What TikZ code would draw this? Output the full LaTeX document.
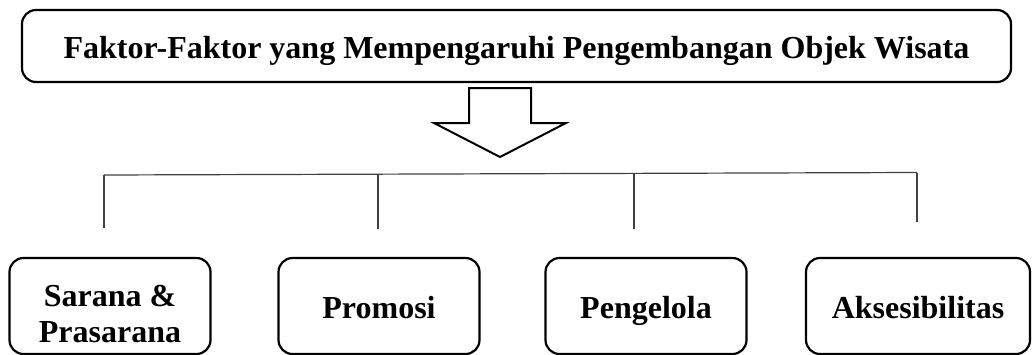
\documentclass[tikz,border=0pt]{standalone}
\usepackage{fontspec}
\setmainfont{Liberation Serif}
\begin{document}
\begin{tikzpicture}[x=1pt,y=-1pt,
  box/.style={draw, line width=2.2pt, rounded corners=14pt, inner sep=0pt,
    font=\fontsize{32}{36}\selectfont\bfseries, align=center},
  leaf/.style={box, minimum width=201pt, minimum height=96pt, text height=24pt, text depth=0pt},
  conn/.style={draw=black!75, line width=1.2pt},
  bigarrow/.style={draw, line width=2pt, fill=white, line join=miter}]
\useasboundingbox (0,0) rectangle (1032,354);
\node[box, minimum width=989pt, minimum height=72pt, text height=24pt, text depth=0pt] (top) at (516.5,46)
  {Faktor-Faktor yang Mempengaruhi Pengembangan Objek Wisata};
% hollow arrow
\coordinate (a1) at (469,88);
\coordinate (a2) at (531,88);
\coordinate (a3) at (531,123);
\coordinate (a4) at (566,123);
\coordinate (tip) at (500,157);
\coordinate (a6) at (434,123);
\coordinate (a7) at (469,123);
\draw[bigarrow] (a1) -- (a2) -- (a3) -- (a4) -- (tip) -- (a6) -- (a7) -- cycle;
% bottom boxes
\node[leaf, text height=72pt] (b1) at (110,306) {Sarana \&\\Prasarana};
\node[leaf] (b2) at (379,306) {Promosi};
\node[leaf] (b3) at (646,306) {Pengelola};
\node[leaf, minimum width=224pt] (b4) at (918,306) {Aksesibilitas};
% tree connector
\coordinate (h1) at (104,175);
\coordinate (h2) at (378,174.5);
\coordinate (h3) at (634,173.5);
\coordinate (h4) at (917,172.5);
\coordinate (e1) at (104,228);
\coordinate (e2) at (378,229);
\coordinate (e3) at (634,229);
\coordinate (e4) at (917,222);
\draw[conn] (h1) -- (h4);
\draw[conn] (h1) -- (e1);
\draw[conn] (h2) -- (e2);
\draw[conn] (h3) -- (e3);
\draw[conn] (h4) -- (e4);
\end{tikzpicture}
\end{document}
